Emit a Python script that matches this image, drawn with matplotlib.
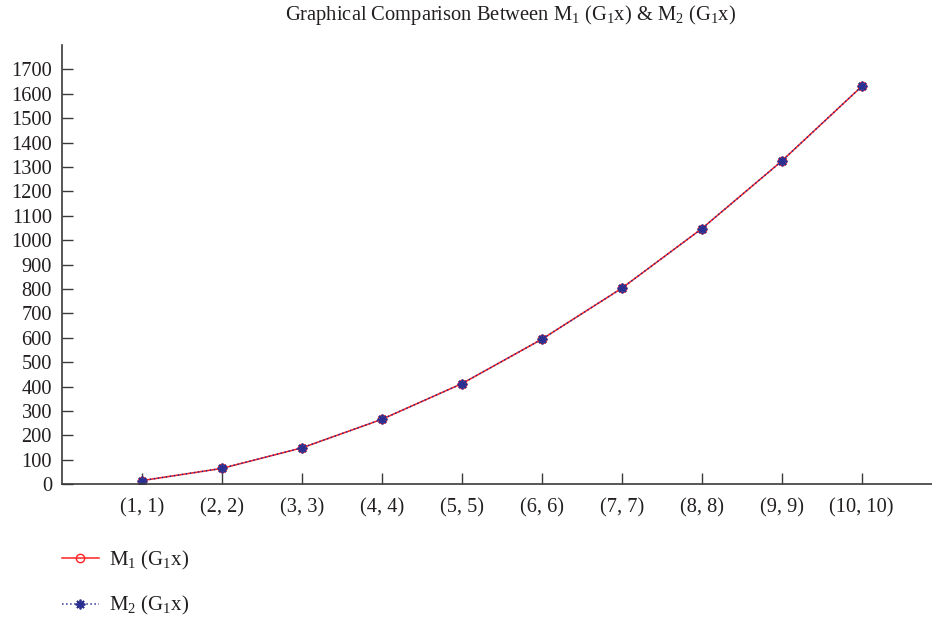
import matplotlib.pyplot as plt

plt.rcParams['font.family'] = ['Liberation Serif', 'DejaVu Serif']
plt.rcParams['mathtext.fontset'] = 'custom'
plt.rcParams['mathtext.rm'] = 'Liberation Serif'
plt.rcParams['mathtext.it'] = 'Liberation Serif:italic'

# categories on the x axis
labels = ['(1, 1)', '(2, 2)', '(3, 3)', '(4, 4)', '(5, 5)',
          '(6, 6)', '(7, 7)', '(8, 8)', '(9, 9)', '(10, 10)']
# values
m1_vals = [15, 65, 149, 266, 412, 594, 803, 1047, 1324, 1630]
m2_vals = [15, 65, 149, 266, 412, 594, 803, 1047, 1324, 1630]
y_ticks = list(range(0, 1701, 100))

text_col = '#231f20'
axis_col = '#3a3a3a'

fig = plt.figure(figsize=(9.32, 6.18), dpi=100)
ax = fig.add_axes([61.7 / 932, 1 - 484.3 / 618, 1 - 61.7 / 932, (484.3 - 45) / 618])

x = list(range(1, len(labels) + 1))
ax.plot(x, m1_vals, color='#ff2020', lw=1.1, marker='o', markersize=6,
        markerfacecolor='none', markeredgecolor='#ff2020', markeredgewidth=1.0,
        label=r'M$_1$ (G$_1$x)')
ax.plot(x, m2_vals, color='#2b2f8f', lw=1.1, ls=':', marker=(8, 2, 0), markersize=7,
        markeredgewidth=1.3, markeredgecolor='#2b2f8f',
        label=r'M$_2$ (G$_1$x)')

ax.set_xlim(0, 10.88)
ax.set_ylim(0, 1800)
ax.set_xticks(x)
ax.set_xticklabels(labels)
ax.set_yticks(y_ticks)

for side in ['top', 'right']:
    ax.spines[side].set_visible(False)
for side in ['left', 'bottom']:
    ax.spines[side].set_color(axis_col)
    ax.spines[side].set_linewidth(1.2)
ax.tick_params(direction='in', length=8, width=1.0, color=axis_col,
               labelsize=14.7, labelcolor=text_col)
ax.tick_params(axis='x', pad=10)
ax.tick_params(axis='y', pad=7)

fig.text(510 / 932, 1 - 15 / 618, r'Graphical Comparison Between M$_1$ (G$_1$x) & M$_2$ (G$_1$x)',
         ha='center', va='center', fontsize=14.8, color=text_col)

fig.legend(loc='upper left', bbox_to_anchor=(49 / 932, 1 - 536 / 618), frameon=False,
           fontsize=15, labelcolor=text_col, handlelength=1.8, handletextpad=0.5,
           labelspacing=1.1, borderaxespad=0.2)

fig.savefig('out.png', dpi=100)
